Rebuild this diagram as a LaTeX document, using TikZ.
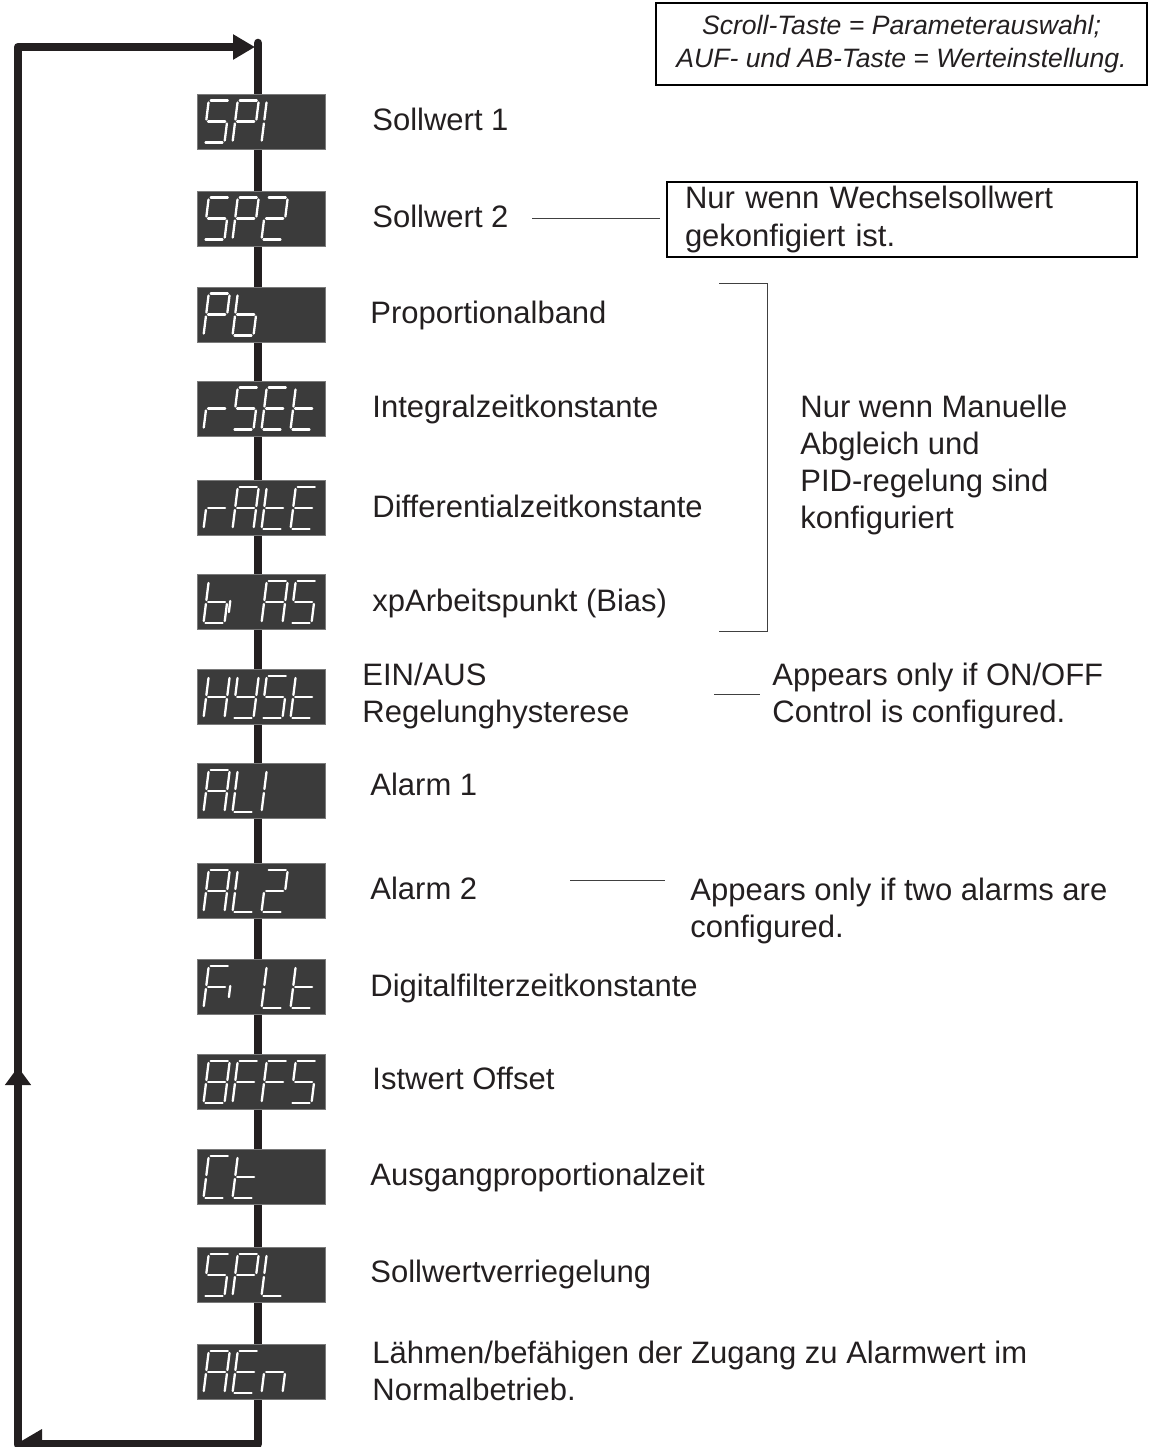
\documentclass[tikz,border=0pt]{standalone}
\usepackage{fontspec}
\setmainfont{Liberation Sans}
\usetikzlibrary{arrows.meta,calc}

\definecolor{lcdgrey}{HTML}{3B3B3B}
\definecolor{lcdedge}{HTML}{7A7A7A}
\definecolor{loopink}{HTML}{231F20}

% segment end points of one display cell (x right, y up)
\newcommand\segpoints{%
  \coordinate (a1) at (2,42);  \coordinate (a2) at (19,42);
  \coordinate (b1) at (21,40); \coordinate (b2) at (21,23);
  \coordinate (c1) at (21,19); \coordinate (c2) at (21,2);
  \coordinate (d1) at (2,0);   \coordinate (d2) at (19,0);
  \coordinate (e1) at (0,19);  \coordinate (e2) at (0,2);
  \coordinate (f1) at (0,40);  \coordinate (f2) at (0,23);
  \coordinate (g1) at (2,21);  \coordinate (g2) at (19,21);
  \coordinate (i1) at (-5,22); \coordinate (i2) at (-5,11);}

\newcommand\defglyph[2]{\expandafter\def\csname glyph#1\endcsname{#2}}
\defglyph{S}{a,f,g,c,d}
\defglyph{P}{a,b,f,g,e}
\defglyph{1}{e,f}
\defglyph{2}{a,b,g,e,d}
\defglyph{b}{f,e,d,c,g}
\defglyph{r}{e,g}
\defglyph{E}{a,f,g,e,d}
\defglyph{t}{f,e,d,g}
\defglyph{A}{a,b,c,e,f,g}
\defglyph{i}{i}
\defglyph{H}{b,c,e,f,g}
\defglyph{Y}{f,g,b,c,d}
\defglyph{L}{f,e,d}
\defglyph{F}{a,f,g,e}
\defglyph{8}{a,b,c,d,e,f,g}
\defglyph{C}{a,f,e,d}
\defglyph{n}{e,g,c}

\newcommand\readout[2]{%
  \foreach \g [count=\j from 0] in #2 {
    \begin{scope}[shift={($(#1.west)+(7+29*\j,21)$)}, x=0.5pt, y={(0.0625pt,0.5pt)}]
      \segpoints
      \edef\segs{\csname glyph\g\endcsname}
      \foreach \s in \segs {\draw[lcdseg] (\s1) -- (\s2);}
    \end{scope}
  }}

\tikzset{
  display/.style={rectangle, fill=lcdgrey, draw=lcdedge, line width=0.5pt,
                  minimum width=64pt, minimum height=27.5pt, inner sep=0pt},
  lcdseg/.style={draw=white, line width=1.15pt, line cap=round},
  parlabel/.style={anchor=base west, align=left},
  leader/.style={draw=black!75, line width=0.5pt},
  loopline/.style={draw=loopink, line width=4.3pt, line join=round, line cap=round}
}

\begin{document}
\begin{tikzpicture}[x=0.5pt, y=-0.5pt,
    every node/.style={font=\fontsize{15.5}{18.5}\selectfont, inner sep=0pt, text=loopink},
    notebox/.style={draw=black, line width=1.3pt}]

  \useasboundingbox (0,0) rectangle (1152,1447);

  % scroll loop
  \coordinate (spinetop) at (258,43);
  \coordinate (spinebot) at (258,1444);
  \coordinate (retbot)   at (16,1444);
  \coordinate (retcorner) at (18,1444);
  \coordinate (rettop)   at (18,47);
  \coordinate (retend)   at (255,47);
  \coordinate (uptip)    at (18,1067);

  \draw[loopline] (spinetop) -- (spinebot);
  \draw[loopline, line cap=butt, -{Triangle[length=13pt,width=14pt]}] (spinebot) -- (retbot);
  \draw[loopline, -{Triangle[length=11pt,width=12pt]}] (retcorner) -- (rettop) -- (retend);
  \draw[loopline, -{Triangle[length=9pt,width=12.5pt]}] (retcorner) -- (uptip);

  % displays
  \foreach \name/\yc/\word in {sp1/121.5/{S,P,1}, sp2/218.5/{S,P,2}, pb/314.5/{P,b},
      rset/408.5/{r,S,E,t}, rate/508/{r,A,t,E}, bias/602/{b,i,A,S},
      hyst/697/{H,Y,S,t}, al1/791/{A,L,1}, al2/891/{A,L,2}, filt/987/{F,i,L,t},
      offs/1082/{8,F,F,S}, ct/1177/{C,t}, spl/1275/{S,P,L}, aen/1372/{A,E,n}} {
    \node[display] (\name) at (261,\yc) {};
    \readout{\name}{\word}
  }

  % parameter names (multi-line: anchor on last line)
  \node[parlabel] (tsp1)  at (372,130.5) {Sollwert 1};
  \node[parlabel] (tsp2)  at (372,227.5) {Sollwert 2};
  \node[parlabel] (tpb)   at (370,323.5) {Proportionalband};
  \node[parlabel] (trset) at (372,417.5) {Integralzeitkonstante};
  \node[parlabel] (trate) at (372,517)   {Differentialzeitkonstante};
  \node[parlabel] (tbias) at (372,611)   {xpArbeitspunkt (Bias)};
  \node[parlabel] (thyst) at (362,722)   {EIN/AUS\\Regelunghysterese};
  \node[parlabel] (tal1)  at (370,795)   {Alarm 1};
  \node[parlabel] (tal2)  at (370,899)   {Alarm 2};
  \node[parlabel] (tfilt) at (370,996)   {Digitalfilterzeitkonstante};
  \node[parlabel] (toffs) at (372,1089)  {Istwert Offset};
  \node[parlabel] (tct)   at (370,1185)  {Ausgangproportionalzeit};
  \node[parlabel] (tspl)  at (370,1282)  {Sollwertverriegelung};
  \node[parlabel] (taen)  at (372,1400)  {Lähmen/befähigen der Zugang zu Alarmwert im\\Normalbetrieb.};

  % notes
  \node[notebox, align=center, minimum width=245.5pt, minimum height=41pt,
        font=\itshape\fontsize{13.3}{16.5}\selectfont] (keys) at (901.5,44)
        {Scroll-Taste = Parameterauswahl;\\AUF- und AB-Taste = Werteinstellung.};
  \node[notebox, align=left, text width=217pt, inner xsep=9pt, minimum height=37.5pt,
        font=\fontsize{15.5}{19}\selectfont] (altsp) at (902,219.5)
        {Nur wenn Wechselsollwert\\gekonfigiert ist.};
  \node[parlabel] (pidnote) at (800,528) {Nur wenn Manuelle\\Abgleich und\\PID-regelung sind\\konfiguriert};
  \node[parlabel] (onoff)   at (772,722) {Appears only if ON/OFF\\Control is configured.};
  \node[parlabel] (twoal)   at (690,937) {Appears only if two alarms are\\configured.};

  % leaders
  \coordinate (sp2lead)  at (532,218);
  \coordinate (hystlead) at (714,694);
  \coordinate (al2lead)  at (570,880);
  \coordinate (pidtop)   at (719,283);
  \coordinate (pidbot)   at (719,631);
  \draw[leader, shorten >=3pt]    (sp2lead) -- (sp2lead -| altsp.west);
  \draw[leader, shorten >=6pt]    (hystlead) -- (hystlead -| onoff.west);
  \draw[leader, shorten >=12.5pt] (al2lead) -- (al2lead -| twoal.west);
  \draw[leader] (pidtop) -- ++(48,0) |- (pidbot);
\end{tikzpicture}
\end{document}
